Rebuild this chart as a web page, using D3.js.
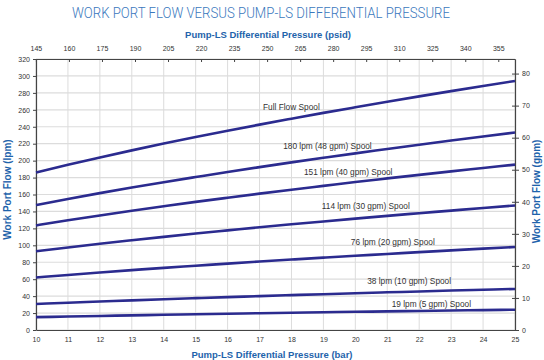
<!DOCTYPE html>
<html><head><meta charset="utf-8">
<script src="https://cdn.jsdelivr.net/npm/d3@7"></script>
<style>body{margin:0;background:#fff}svg{display:block}</style>
</head><body>
<svg id="chart" width="544" height="360"></svg>
<script>
const pressureBar = [10,11,12,13,14,15,16,17,18,19,20,21,22,23,24,25];
const fullFlow  = [186.0,195.1,203.7,212.1,220.1,227.8,235.3,242.5,249.5,256.4,263.0,269.5,275.9,282.1,288.2,294.1];
const spool180  = [147.5,154.7,161.6,168.2,174.5,180.6,186.6,192.3,197.9,203.3,208.6,213.7,218.8,223.7,228.5,233.2];
const spool151  = [123.5,129.5,135.3,140.8,146.1,151.3,156.2,161.0,165.7,170.2,174.7,179.0,183.2,187.3,191.3,195.3];
const spool114  = [93.0,97.5,101.9,106.0,110.0,113.9,117.6,121.3,124.8,128.2,131.5,134.8,137.9,141.0,144.1,147.0];
const spool76   = [62.0,65.0,67.9,70.7,73.4,75.9,78.4,80.8,83.2,85.5,87.7,89.8,92.0,94.0,96.1,98.0];
const spool38   = [30.7,32.2,33.6,35.0,36.3,37.6,38.8,40.0,41.2,42.3,43.4,44.5,45.5,46.6,47.6,48.5];
const spool19   = [15.2,15.9,16.6,17.3,18.0,18.6,19.2,19.8,20.4,21.0,21.5,22.0,22.5,23.1,23.5,24.0];
const seriesNames = ["Full Flow Spool","180 lpm (48 gpm) Spool","151 lpm (40 gpm) Spool","114 lpm (30 gpm) Spool","76 lpm (20 gpm) Spool","38 lpm (10 gpm) Spool","19 lpm (5 gpm) Spool"];
const labelBar  = [17.11,17.74,18.39,18.95,19.86,20.37,21.14];
const labelFlow = [263.7,217.6,186.6,146.4,104.3,58.2,30.7];
const lpmTicks = [0,20,40,60,80,100,120,140,160,180,200,220,240,260,280,300,320];
const gpmTicks = [0,10,20,30,40,50,60,70,80];
const psiTicks = [145,160,175,190,205,220,235,250,265,280,295,310,325,340,355];
const barTicks = [10,11,12,13,14,15,16,17,18,19,20,21,22,23,24,25];
const PSI_PER_BAR = 14.5038, LPM_PER_GPM = 3.785;

const allSeries = [fullFlow,spool180,spool151,spool114,spool76,spool38,spool19];
const svg = d3.select("#chart");
const L=36, R=515, T=59, B=330;
const x = d3.scaleLinear().domain([10,25]).range([L,R]);
const xPsi = d3.scaleLinear().domain([10*PSI_PER_BAR,25*PSI_PER_BAR]).range([L,R]);
const y = d3.scaleLinear().domain([0,320]).range([B,T]);
const yG = d3.scaleLinear().domain([0,320/LPM_PER_GPM]).range([B,T]);
const font = "'Liberation Sans', Arial, sans-serif";
const blue = "#1e63ab";

// grid
const g = svg.append("g");
g.selectAll("line.h").data(lpmTicks).join("line")
  .attr("x1",L).attr("x2",R).attr("y1",d=>y(d)).attr("y2",d=>y(d))
  .attr("stroke","#dcdcdc").attr("stroke-width",1.2);
g.selectAll("line.v").data(barTicks).join("line")
  .attr("y1",T).attr("y2",B).attr("x1",d=>x(d)).attr("x2",d=>x(d))
  .attr("stroke","#dcdcdc").attr("stroke-width",1);

// axes
function styleAxis(sel){
  sel.selectAll("text").attr("font-family",font).attr("font-size",7).attr("fill","#333");
  sel.select(".domain").attr("stroke","#444").attr("stroke-width",1.2);
  sel.selectAll(".tick line").attr("stroke","#444");
}
svg.append("g").attr("transform",`translate(0,${B})`)
  .call(d3.axisBottom(x).tickValues(barTicks).tickSize(0).tickPadding(7).tickSizeOuter(0)).call(styleAxis);
svg.append("g").attr("transform",`translate(0,${T})`)
  .call(d3.axisTop(xPsi).tickValues(psiTicks).tickSize(-3).tickPadding(8).tickSizeOuter(0)).call(styleAxis);
svg.append("g").attr("transform",`translate(${L},0)`)
  .call(d3.axisLeft(y).tickValues(lpmTicks).tickSize(3).tickPadding(3).tickSizeOuter(0)).call(styleAxis);
const ra = svg.append("g").attr("transform",`translate(${R},0)`)
  .call(d3.axisRight(yG).tickValues(gpmTicks).tickSize(4).tickPadding(3).tickSizeOuter(0)).call(styleAxis);
ra.selectAll(".tick line").attr("x1",-3);

// series lines
const line = d3.line().x((d,i)=>x(pressureBar[i])).y(d=>y(d)).curve(d3.curveMonotoneX);
svg.append("g").selectAll("path").data(allSeries).join("path")
  .attr("d",line).attr("fill","none").attr("stroke","#2b2b8f").attr("stroke-width",2.6);

// series labels
svg.append("g").selectAll("text").data(seriesNames).join("text")
  .attr("x",(d,i)=>x(labelBar[i])).attr("y",(d,i)=>y(labelFlow[i]))
  .attr("dy","0.35em").attr("font-family",font).attr("font-size",8.3).attr("fill","#333")
  .text(d=>d);

// titles
svg.append("text").attr("x",261).attr("y",18).attr("text-anchor","middle")
  .attr("font-family","Roboto, 'DejaVu Sans Condensed', sans-serif").attr("font-weight",300)
  .attr("font-size",14.5).attr("fill","#3a78bd").attr("textLength",378).attr("lengthAdjust","spacingAndGlyphs")
  .text("WORK PORT FLOW VERSUS PUMP-LS DIFFERENTIAL PRESSURE");
svg.append("text").attr("x",268).attr("y",38).attr("text-anchor","middle")
  .attr("font-family",font).attr("font-weight","bold").attr("font-size",9.5).attr("fill",blue)
  .text("Pump-LS Differential Pressure (psid)");
svg.append("text").attr("x",272).attr("y",358).attr("text-anchor","middle")
  .attr("font-family",font).attr("font-weight","bold").attr("font-size",9.5).attr("fill",blue)
  .text("Pump-LS Differential Pressure (bar)");
svg.append("text").attr("transform",`translate(11,${(T+B)/2 - 5}) rotate(-90)`).attr("text-anchor","middle")
  .attr("font-family",font).attr("font-weight","bold").attr("font-size",10).attr("fill",blue)
  .text("Work Port Flow (lpm)");
svg.append("text").attr("transform",`translate(540,${(T+B)/2 - 3}) rotate(-90)`).attr("text-anchor","middle")
  .attr("font-family",font).attr("font-weight","bold").attr("font-size",10).attr("fill",blue)
  .text("Work Port Flow (gpm)");
</script>
</body></html>
